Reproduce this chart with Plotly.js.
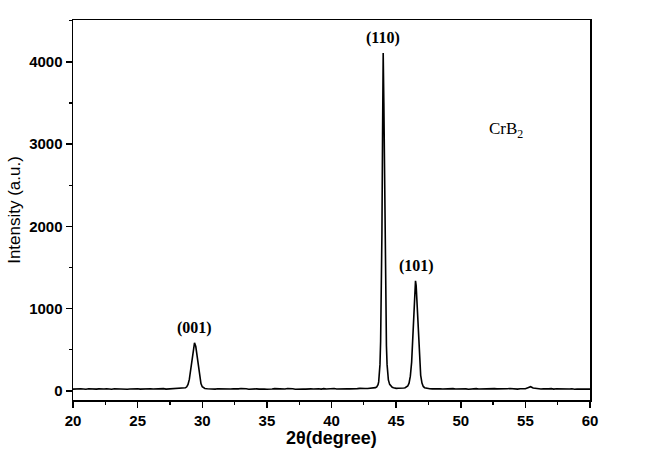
<!DOCTYPE html>
<html>
<head>
<meta charset="utf-8">
<script src="https://cdn.plot.ly/plotly-3.0.1.min.js"></script>
<style>html,body{margin:0;padding:0;background:#fff;}#chart{width:666px;height:452px;}</style>
</head>
<body>
<div id="chart"></div>
<script>
// Baseline 20.0 - 28.6
const xBase1 = [20.0,20.2,20.4,20.6,20.8,21.0,21.2,21.4,21.6,21.8,22.0,22.2,22.4,22.6,22.8,23.0,23.2,23.4,23.6,23.8,24.0,24.2,24.4,24.6,24.8,25.0,25.2,25.4,25.6,25.8,26.0,26.2,26.4,26.6,26.8,27.0,27.2,27.4,27.6,27.8,28.0,28.2,28.4,28.6];
const yBase1 = [22,25,21,27,24,20,26,23,28,22, 25,21,24,27,23,20,26,24,22,28, 25,21,23,27,24,26,22,25,20,24, 27,23,26,21,25,28,22,24,26,23, 27,25,29,33];
// (001) peak
const xPeak001 = [28.7,28.8,28.9,29.0,29.1,29.2,29.3,29.4,29.5,29.6,29.7,29.8,29.9,30.0,30.1,30.2];
const yPeak001 = [38,50,80,140,250,390,520,585,540,430,290,170,90,52,36,30];
// Baseline 30.4 - 43.4
const xBase2 = [30.4,30.6,30.8,31.0,31.2,31.4,31.6,31.8,32.0,32.2,32.4,32.6,32.8,33.0,33.2,33.4,33.6,33.8,34.0,34.2,34.4,34.6,34.8,35.0,35.2,35.4,35.6,35.8,36.0,36.2,36.4,36.6,36.8,37.0,37.2,37.4,37.6,37.8,38.0,38.2,38.4,38.6,38.8,39.0,39.2,39.4,39.6,39.8,40.0,40.2,40.4,40.6,40.8,41.0,41.2,41.4,41.6,41.8,42.0,42.2,42.4,42.6,42.8,43.0,43.2,43.4];
const yBase2 = [27,24,29,22,26,25,21,28,24,23, 27,22,25,29,23,26,21,24,28,25, 22,27,24,20,26,23,28,25,22,27, 24,29,23,26,21,25,28,24,22,27, 25,23,29,26,22,28,24,27,25,30, 23,26,28,24,27,25,29,26,28,31, 27,30,29,32,35,40];
// (110) peak
const xPeak110 = [43.5,43.6,43.65,43.7,43.75,43.8,43.85,43.9,43.95,44.0,44.05,44.1,44.15,44.2,44.25,44.3,44.35,44.4,44.5,44.6,44.7,44.8];
const yPeak110 = [50,75,110,180,320,600,1100,1900,3100,4110,3500,2500,1600,950,550,320,200,135,80,55,44,38];
// valley between (110) and (101)
const xValley = [44.9,45.0,45.2,45.4,45.6,45.7,45.8];
const yValley = [34,31,33,30,36,40,46];
// (101) peak
const xPeak101 = [45.9,46.0,46.1,46.2,46.3,46.4,46.45,46.5,46.55,46.6,46.7,46.8,46.9,47.0,47.1,47.2];
const yPeak101 = [60,95,180,350,650,1050,1250,1340,1280,1120,760,400,190,95,55,40];
// Baseline 47.4 - 60.0
const xBase3 = [47.4,47.6,47.8,48.0,48.2,48.4,48.6,48.8,49.0,49.2,49.4,49.6,49.8,50.0,50.2,50.4,50.6,50.8,51.0,51.2,51.4,51.6,51.8,52.0,52.2,52.4,52.6,52.8,53.0,53.2,53.4,53.6,53.8,54.0,54.2,54.4,54.6,54.8,55.0,55.2,55.4,55.6,55.8,56.0,56.2,56.4,56.6,56.8,57.0,57.2,57.4,57.6,57.8,58.0,58.2,58.4,58.6,58.8,59.0,59.2,59.4,59.6,59.8,60.0];
const yBase3 = [30,27,25,28,23,26,24,27,22,25, 28,24,26,23,27,25,21,26,24,28, 23,25,27,22,26,24,28,25,23,27, 24,26,30,25,28,22,26,24,27,40, 52,35,29,26,24,27,23,25,28,22, 26,24,21,27,25,23,26,20,24,22, 25,21,23,22];

const peakLabels = ['(001)','(110)','(101)'];
const peakX = [29.4, 44.0, 46.55];
const peakY = [585, 4110, 1340];
const sampleName = 'CrB<sub>2</sub>';

const xs = [].concat(xBase1, xPeak001, xBase2, xPeak110, xValley, xPeak101, xBase3);
const ys = [].concat(yBase1, yPeak001, yBase2, yPeak110, yValley, yPeak101, yBase3);

const trace = {
  x: xs, y: ys, type: 'scatter', mode: 'lines',
  line: {color: '#000', width: 1.6}, hoverinfo: 'skip'
};

const annotations = peakLabels.map((t, i) => ({
  x: peakX[i], y: peakY[i], xref: 'x', yref: 'y', text: t, showarrow: false,
  yanchor: 'bottom', yshift: 4,
  font: {family: 'Liberation Serif, Times New Roman, serif', size: 16, color: '#000', weight: 'bold'}
}));
annotations.push({
  x: 53.5, y: 3170, xref: 'x', yref: 'y', text: sampleName, showarrow: false,
  font: {family: 'Liberation Serif, Times New Roman, serif', size: 17, color: '#000'}
});

const axisFont = {family: 'Liberation Sans, Arial, sans-serif', size: 15, color: '#000', weight: 'bold'};

const layout = {
  width: 666, height: 452,
  margin: {l: 73, r: 76, t: 20, b: 52},
  paper_bgcolor: '#fff', plot_bgcolor: '#fff',
  showlegend: false,
  xaxis: {
    range: [20, 60], dtick: 5, tick0: 20,
    ticks: 'outside', ticklen: 6, tickwidth: 1.5, tickcolor: '#000',
    minor: {dtick: 2.5, ticks: 'outside', ticklen: 3, tickwidth: 1.2, tickcolor: '#000'},
    showline: true, linecolor: '#000', linewidth: 1.5, mirror: true,
    showgrid: false, zeroline: false,
    tickfont: axisFont,
    title: {text: '2θ(degree)', standoff: 2, font: {family: 'Liberation Sans, Arial, sans-serif', size: 18, color: '#000', weight: 'bold'}}
  },
  yaxis: {
    range: [-110, 4510], dtick: 1000, tick0: 0,
    ticks: 'outside', ticklen: 6, tickwidth: 1.5, tickcolor: '#000',
    minor: {dtick: 500, ticks: 'outside', ticklen: 3, tickwidth: 1.2, tickcolor: '#000'},
    showline: true, linecolor: '#000', linewidth: 1.5, mirror: true,
    showgrid: false, zeroline: false,
    tickfont: axisFont,
    title: {text: 'Intensity (a.u.)', standoff: 4, font: {family: 'Liberation Sans, Arial, sans-serif', size: 17, color: '#000'}}
  },
  annotations: annotations
};

Plotly.newPlot('chart', [trace], layout, {staticPlot: true, displayModeBar: false});
</script>
</body>
</html>
